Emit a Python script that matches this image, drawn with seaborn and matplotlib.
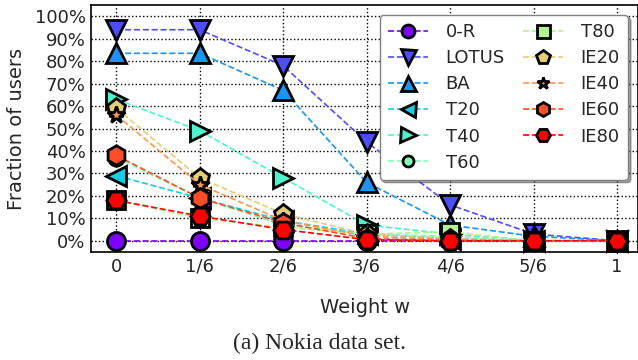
import numpy as np
import matplotlib
matplotlib.use("Agg")
import matplotlib.pyplot as plt
import seaborn as sns

weights = [0, 1/6, 2/6, 3/6, 4/6, 5/6, 1]
tick_labels = ['0', '1/6', '2/6', '3/6', '4/6', '5/6', '1']

names = ['0-R', 'LOTUS', 'BA', 'T20', 'T40', 'T60', 'T80',
         'IE20', 'IE40', 'IE60', 'IE80']
zero_r = [0, 0, 0, 0, 0, 0, 0]
lotus = [94, 94, 78, 44, 16, 3, 0]
ba = [83.5, 83.5, 67, 26, 7, 2, 0]
t20 = [29, 19, 9, 3, 1, 0, 0]
t40 = [63, 49, 28, 7, 3, 0, 0]
t60 = [37, 19, 7, 3, 2, 0, 0]
t80 = [18, 10, 6, 3, 4, 0, 0]
ie20 = [59, 28, 12, 3, 1, 0, 0]
ie40 = [56, 25, 9, 2, 0.5, 0, 0]
ie60 = [38, 19, 8, 1, 0, 0, 0]
ie80 = [18, 11, 5, 0.5, 0, 0, 0]
series = [zero_r, lotus, ba, t20, t40, t60, t80, ie20, ie40, ie60, ie80]
markers = ['o', 'v', '^', '<', '>', 'o', 's', 'p', '*', 'h', 'H']
sizes = [13, 15, 15, 15, 15, 11, 13, 14, 13, 14, 14]

sns.set_style("white")
plt.rcParams['font.family'] = ['DejaVu Sans']

fig = plt.figure(figsize=(6.38, 3.6), dpi=100)
ax = fig.add_axes([0.143, 0.30, 0.857, 0.686])
colors = plt.cm.rainbow(np.linspace(0, 1, len(names)))

for name, vals, m, ms, c in zip(names, series, markers, sizes, colors):
    sns.lineplot(x=weights, y=vals, ax=ax, color=c, linestyle='--',
                 marker=m, markersize=ms, markeredgecolor='black',
                 markeredgewidth=2, markerfacecolor=c, label=name,
                 linewidth=1.2, clip_on=False)

ax.set_xlim(-0.05, 1.042)
ax.set_ylim(-5, 105)
ax.set_xticks(weights)
ax.set_xticklabels(tick_labels)
ax.set_yticks(range(0, 101, 10))
ax.set_yticklabels([f'{v}%' for v in range(0, 101, 10)])
ax.tick_params(labelsize=13, length=0, pad=4)
ax.grid(True, linestyle=':', color='black', linewidth=1)
for s in ax.spines.values():
    s.set_color('black')
    s.set_linewidth(1.2)
ax.set_xlabel('Weight w', fontsize=14, labelpad=16)
ax.set_ylabel('Fraction of users', fontsize=14, labelpad=6)

leg = ax.legend(ncol=2, loc='upper right', fontsize=13, markerscale=0.72,
                handlelength=2.2, handletextpad=1.0, columnspacing=1.0,
                labelspacing=0.45, borderaxespad=0.55, borderpad=0.45,
                fancybox=True, shadow=True, framealpha=1)
leg.get_frame().set_edgecolor('gray')

fig.text(0.5, 0.047, '(a) Nokia data set.', ha='center', va='center',
         fontsize=17, family='Liberation Serif')

fig.savefig('out.png', dpi=100)
